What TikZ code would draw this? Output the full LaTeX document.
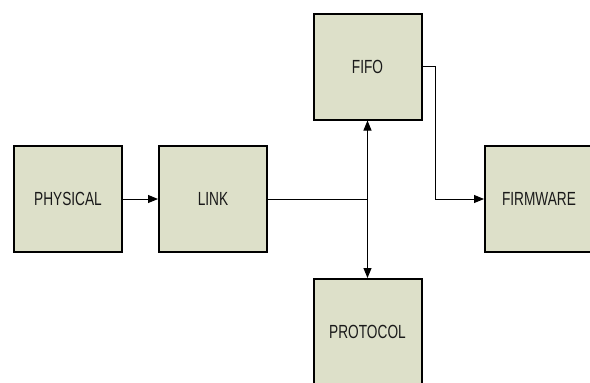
\documentclass[tikz,border=0pt]{standalone}
\usepackage{fontspec}
\setmainfont[FakeStretch=0.72]{Liberation Sans}
\usetikzlibrary{arrows.meta}
\definecolor{blockfill}{RGB}{221,224,201}
\definecolor{blocktext}{RGB}{26,26,26}
\tikzset{
  block/.style={draw=black, line width=2pt, fill=blockfill, rectangle,
    minimum width=108pt, minimum height=106pt, inner sep=0pt,
    text=blocktext, font=\fontsize{19}{22}\selectfont},
  link/.style={draw=black, line width=1pt},
  arrow/.style={link, -{Triangle[length=10pt,width=8pt]}}
}
\begin{document}
\begin{tikzpicture}[x=1pt, y=-1pt]
  \useasboundingbox (0,0) rectangle (590,383);
  \clip (0,0) rectangle (590,383);
  % the five blocks
  \node[block] (phys) at (68,199) {PHYSICAL};
  \node[block] (link) at (213,199) {LINK};
  \node[block] (fifo) at (367.5,66.5) {FIFO};
  \node[block] (prot) at (367.5,332) {PROTOCOL};
  \node[block] (firm) at (539,199) {FIRMWARE};
  % branch point between FIFO and PROTOCOL
  \coordinate (junc) at (fifo.south |- link.east);
  \coordinate (turn) at (435,0);
  % connectors
  \draw[arrow] (phys.east) -- (link.west);
  \draw[link] (link.east) -- (junc);
  \draw[arrow] (junc) -- (fifo.south);
  \draw[arrow] (junc) -- (prot.north);
  \draw[arrow] (fifo.east) -- (turn |- fifo.east) -- (turn |- firm.west) -- (firm.west);
\end{tikzpicture}
\end{document}
